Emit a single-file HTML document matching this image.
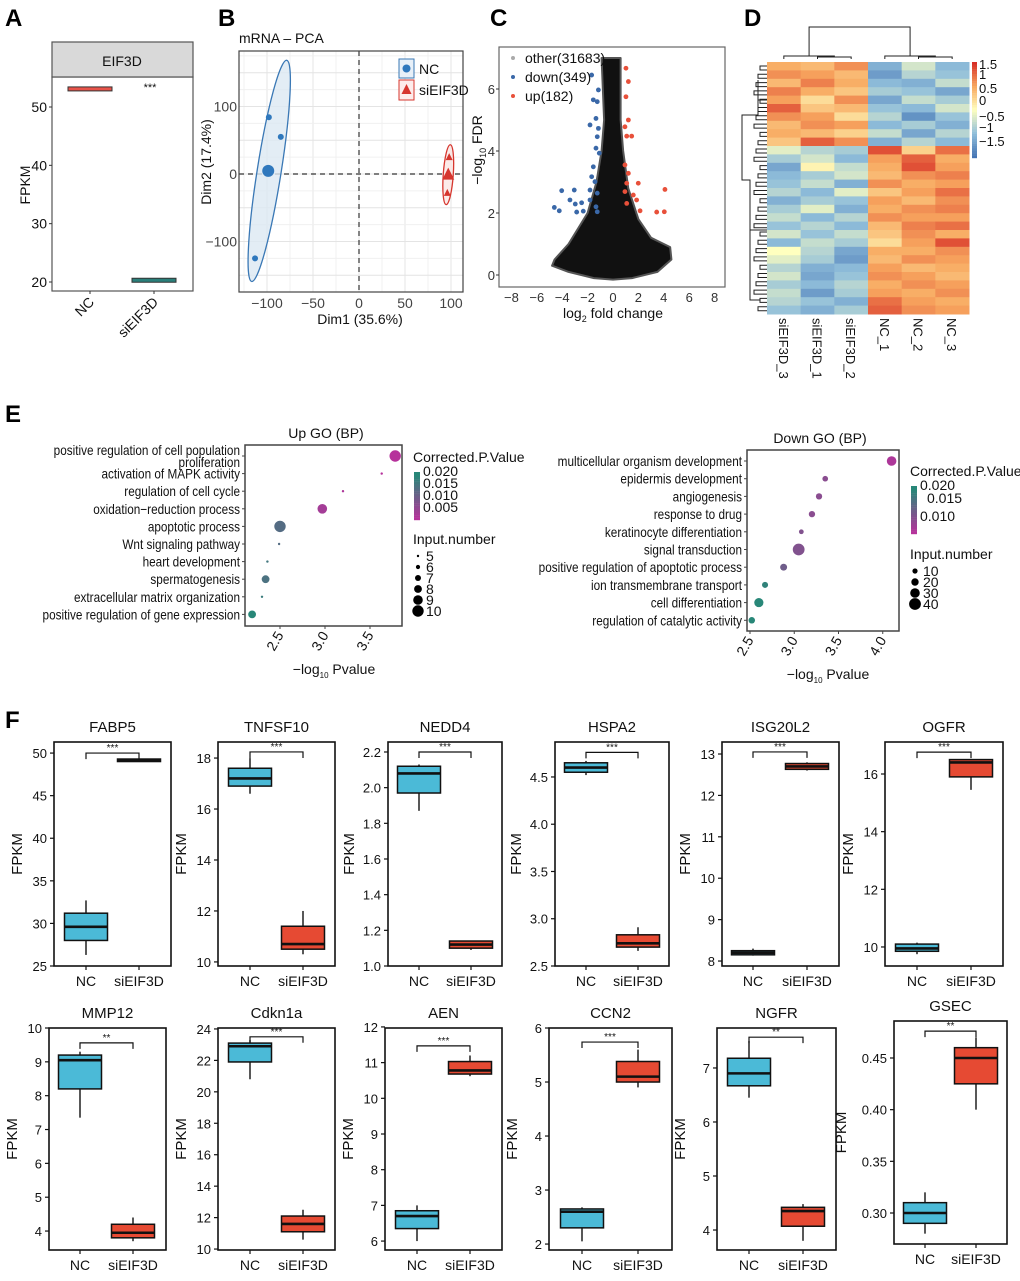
<!DOCTYPE html>
<html><head><meta charset="utf-8"><style>
html,body{margin:0;padding:0;background:#fff}
svg{display:block;font-family:"Liberation Sans",Arial,sans-serif}
</style></head><body>
<svg id="fig" width="1020" height="1281" viewBox="0 0 1020 1281" xmlns="http://www.w3.org/2000/svg">
<rect width="1020" height="1281" fill="#fff"/>
<text x="5" y="26" font-size="24" font-weight="bold">A</text>
<text x="218" y="26" font-size="24" font-weight="bold">B</text>
<text x="490" y="26" font-size="24" font-weight="bold">C</text>
<text x="744" y="26" font-size="24" font-weight="bold">D</text>
<text x="5" y="422" font-size="24" font-weight="bold">E</text>
<text x="5" y="728" font-size="24" font-weight="bold">F</text>
</svg>
<script>
// ---------- DATA ----------
// Panel A
const aGroups = ["NC","siEIF3D"];
const aValues = [53.1, 20.3];
// Panel B (PCA)
const pcaNCx = [-98, -85, -113];
const pcaNCy = [84, 55, -125];
const pcaSIx = [98, 97, 96];
const pcaSIy = [25, 0, -28];
const pcaXTicks = [-100,-50,0,50,100];
const pcaYTicks = [-100,0,100];
// Panel C (volcano)
const downFC = [-1.68,-1.15,-1.55,-1.24,-1.34,-1.81,-1.15,-1.24,-1.34,-1.08,-1.55,-1.68,-1.42,-1.81,-1.24,-4.04,-3.05,-3.39,-2.97,-2.47,-1.81,-4.62,-4.23,-2.86,-2.34,-1.34,-1.24];
const downFDR = [6.45,5.97,5.65,5.59,5.05,4.84,4.73,4.46,4.09,3.93,3.49,3.17,3.01,2.74,2.64,2.72,2.74,2.42,2.29,2.33,2.42,2.18,2.07,2.03,2.06,2.2,2.04];
const upFC = [1.02,1.21,1.02,1.21,0.94,1.47,1.08,0.94,1.08,1.99,0.94,1.6,1.86,1.08,2.13,3.44,4.04,4.09,1.21];
const upFDR = [6.67,6.24,5.75,5.0,4.78,4.48,4.48,3.55,2.96,2.96,2.69,2.58,2.42,2.31,2.07,2.03,2.04,2.76,3.28];
const cloudFC = [-0.9,-0.7,-0.9,-1.3,-2.0,-3.5,-4.6,-4.8,-3.5,-1.5,0,1.5,3.5,4.6,4.5,3.0,2.0,1.2,0.8,0.6,0.6];
const cloudFDR = [7.0,5.0,4.0,3.0,2.0,1.0,0.5,0.3,0.1,-0.1,-0.15,-0.1,0.1,0.5,0.9,1.2,1.8,2.8,4.0,5.0,7.0];
const volXTicks = [-8,-6,-4,-2,0,2,4,6,8];
const volYTicks = [0,2,4,6];
// Panel D (heatmap)
const hmCols = ["siEIF3D_3","siEIF3D_1","siEIF3D_2","NC_1","NC_2","NC_3"];
const hmRows = [
 [0.7,0.6,0.9,-0.9,-0.3,-0.8],[0.9,0.8,0.6,-1.1,-0.5,-0.7],[0.6,1.0,0.7,-0.8,-0.9,-0.4],
 [1.0,0.7,0.5,-0.6,-0.7,-1.0],[0.8,0.3,0.9,-1.0,-0.4,-0.6],[1.2,0.5,0.6,-0.7,-0.8,-0.3],
 [0.9,0.8,0.3,-0.5,-1.2,-0.7],[0.6,0.9,0.8,-0.8,-0.6,-0.9],[0.7,0.6,0.4,-0.4,-1.0,-0.5],
 [0.5,1.2,0.9,-0.9,-0.5,-0.8],
 [-0.2,-0.5,-0.6,1.3,0.4,1.1],[-0.6,-0.3,-0.8,0.8,1.2,0.7],[-1.0,0.1,-0.4,0.7,1.3,0.8],
 [-0.8,-0.6,-0.3,0.6,0.9,1.0],[-0.7,-0.4,-0.9,0.9,0.7,0.8],[-0.5,-0.8,-0.2,0.5,0.8,1.1],
 [-0.9,-0.6,-0.7,0.8,0.6,0.9],[-0.6,-0.2,-0.9,0.7,0.9,1.0],[-0.4,-0.8,-0.5,0.9,0.8,0.8],
 [-0.7,-0.5,-0.8,0.6,1.0,1.1],[-0.3,-0.7,-0.4,0.5,0.9,0.7],[-0.8,-0.4,-0.6,0.3,0.8,1.3],
 [0.0,-0.5,-1.0,0.7,0.7,0.9],[-0.2,-0.6,-1.1,0.6,0.9,0.8],[-0.5,-0.9,-0.8,0.8,0.6,0.7],
 [-0.3,-1.0,-0.7,0.9,0.8,0.6],[-0.6,-0.8,-0.5,0.7,0.9,0.8],[-0.4,-1.1,-0.6,0.8,0.7,0.9],
 [-0.5,-0.7,-0.9,1.1,0.8,0.7],[-0.7,-0.9,-0.6,1.2,0.9,0.8]
];
const hmRowSplit = 10;
// Panel E (GO)
const upTerms = ["positive regulation of cell population\nproliferation","activation of MAPK activity","regulation of cell cycle","oxidation\u2212reduction process","apoptotic process","Wnt signaling pathway","heart development","spermatogenesis","extracellular matrix organization","positive regulation of gene expression"];
const upP = [3.78,3.63,3.2,2.97,2.5,2.49,2.36,2.34,2.3,2.19];
const upN = [10,5,5,9,10,5,5,8,5,8];
const upQ = [0.004,0.005,0.006,0.007,0.016,0.016,0.018,0.017,0.019,0.021];
const upXTicks = [2.5,3.0,3.5];
const downTerms = ["multicellular organism development","epidermis development","angiogenesis","response to drug","keratinocyte differentiation","signal transduction","positive regulation of apoptotic process","ion transmembrane transport","cell differentiation","regulation of catalytic activity"];
const downP = [4.1,3.35,3.28,3.2,3.08,3.05,2.88,2.67,2.6,2.52];
const downN = [30,12,15,15,8,40,18,14,28,16];
const downQ = [0.006,0.010,0.010,0.010,0.011,0.011,0.013,0.020,0.021,0.022];
const downXTicks = [2.5,3.0,3.5,4.0];
// Panel F (boxplots) : [min,q1,median,q3,max]
const fGenes = ["FABP5","TNFSF10","NEDD4","HSPA2","ISG20L2","OGFR","MMP12","Cdkn1a","AEN","CCN2","NGFR","GSEC"];
const fNC = [[26.3,28,29.6,31.2,32.7],[16.6,16.9,17.2,17.6,18],[1.87,1.97,2.08,2.12,2.13],[4.52,4.55,4.6,4.65,4.67],[8.13,8.15,8.2,8.25,8.3],[9.75,9.85,9.95,10.1,10.15],[7.35,8.2,9.05,9.2,9.3],[20.8,21.9,22.9,23.1,23.3],[6.0,6.35,6.7,6.85,7.0],[2.05,2.3,2.6,2.65,2.68],[6.45,6.67,6.9,7.18,7.5],[0.28,0.29,0.30,0.31,0.32]];
const fSI = [[49.1,49.1,49.2,49.3,49.3],[10.3,10.5,10.7,11.4,12],[1.09,1.10,1.12,1.14,1.14],[2.66,2.7,2.74,2.83,2.91],[12.6,12.63,12.7,12.77,12.8],[15.45,15.9,16.4,16.5,16.5],[3.7,3.8,3.95,4.2,4.4],[10.6,11.1,11.6,12.1,12.5],[10.62,10.68,10.78,11.03,11.2],[4.9,5.0,5.1,5.38,5.6],[3.8,4.07,4.35,4.42,4.48],[0.40,0.425,0.45,0.46,0.47]];
const fTicks = [["25","30","35","40","45","50"],["10","12","14","16","18"],["1.0","1.2","1.4","1.6","1.8","2.0","2.2"],["2.5","3.0","3.5","4.0","4.5"],["8","9","10","11","12","13"],["10","12","14","16"],["4","5","6","7","8","9","10"],["10","12","14","16","18","20","22","24"],["6","7","8","9","10","11","12"],["2","3","4","5","6"],["4","5","6","7"],["0.30","0.35","0.40","0.45"]];
const fDomain = [[25,51.3],[9.84,18.63],[1.0,2.256],[2.5,4.87],[7.88,13.29],[9.34,17.11],[3.44,10],[9.94,24.06],[5.75,11.97],[1.89,6],[3.63,7.74],[0.27,0.4858]];
const fBracket = [50,18.24,2.2,4.76,13.05,16.76,9.56,23.5,11.47,5.74,7.57,0.476];
const fSig = ["***","***","***","***","***","***","**","***","***","***","**","**"];
// layout (pixels) for F panels: [left,top,right,bottom,ncX,siX,yTitleOffset]
const fLayout = [[54,742,171,966,86,139,32],[218,742,335,966,250,303,32],[388,742,502,966,419,471,34],[555,742,669,966,586,638,34],[722,742,839,966,753,807,32],[885,742,1003,966,917,971,32],
 [49,1028,166,1250,80,133,32],[218,1028,335,1250,250,303,32],[385,1028,502,1250,417,470,32],[549,1028,672,1250,582,638,32],[717,1028,836,1250,749,803,32],[894,1021,1007,1244,925,976,48]];

// ---------- HELPERS ----------
const svg = document.getElementById('fig');
const NS = 'http://www.w3.org/2000/svg';
function mk(tag, attrs, parent){ const e=document.createElementNS(NS,tag); for(const k in attrs) e.setAttribute(k,attrs[k]); (parent||svg).appendChild(e); return e; }
function nm(e, n){
  
  
  return e;
}
function txt(x,y,s,size,anchor,extra){ const t=mk('text',Object.assign({x:x,y:y,'font-size':size,'text-anchor':anchor||'start',fill:'#111'},extra||{})); t.textContent=s; return t; }

// ---------- PANEL A ----------
(function(){
  const L=52,T=42,R=193,B=291,S=77;
  const y=v=>282-(v-20)*(175/30);
  const xs=[90,154];
  let e=mk('rect',{x:L,y:S,width:R-L,height:B-S,fill:'#fff',stroke:'#555','stroke-width':1.2}); nm(e,'a-plot-area');
  e=mk('rect',{x:L,y:T,width:R-L,height:S-T,fill:'#d9d9d9',stroke:'#555','stroke-width':1.2}); nm(e,'a-strip');
  e=txt(122,66,'EIF3D',14,'middle'); nm(e,'a-strip-label');
  [20,30,40,50].forEach(v=>{ let t=txt(47,y(v)+5,String(v),14,'end'); nm(t,'a-y-tick-label'); let l=mk('line',{x1:L-3,x2:L,y1:y(v),y2:y(v),stroke:'#333'}); nm(l,'a-y-tick'); });
  e=txt(0,0,'FPKM',14,'middle',{transform:'translate(30,185) rotate(-90)'}); nm(e,'a-y-axis-title');
  const cols=['#e8534a','#2a7f7a'];
  aValues.forEach((v,i)=>{
    let r=mk('rect',{x:xs[i]-22,y:y(v)-2,width:44,height:4,fill:cols[i],stroke:'#333','stroke-width':1}); nm(r,'a-box-'+aGroups[i]);
    let t=txt(0,0,aGroups[i],14,'end',{transform:`translate(${xs[i]+5},${B+12}) rotate(-45)`}); nm(t,'a-x-tick-label');
    let l=mk('line',{x1:xs[i],x2:xs[i],y1:B,y2:B+3,stroke:'#333'}); nm(l,'a-x-tick');
  });
  e=txt(150,91,'***',11,'middle'); nm(e,'a-significance');
})();

// ---------- PANEL B ----------
(function(){
  const L=239,T=51,R=463,B=292;
  const x=v=>359+v*0.92, y=v=>174-v*0.675;
  let e;
  for(let v=-125;v<=100;v+=25){ if(x(v)>L&&x(v)<R){ e=mk('line',{x1:x(v),x2:x(v),y1:T,y2:B,stroke:v%50===0?'#e4e4e4':'#f0f0f0','stroke-width':1}); nm(e,'b-grid-x'); } }
  for(let v=-150;v<=175;v+=25){ if(y(v)>T&&y(v)<B){ e=mk('line',{x1:L,x2:R,y1:y(v),y2:y(v),stroke:v%50===0?'#e4e4e4':'#f0f0f0','stroke-width':1}); nm(e,'b-grid-y'); } }
  e=mk('line',{x1:x(0),x2:x(0),y1:T,y2:B,stroke:'#333','stroke-dasharray':'5,4','stroke-width':1.2}); nm(e,'b-zero-vline');
  e=mk('line',{x1:L,x2:R,y1:y(0),y2:y(0),stroke:'#333','stroke-dasharray':'5,4','stroke-width':1.2}); nm(e,'b-zero-hline');
  const mNCx=pcaNCx.reduce((a,b)=>a+b)/3, mNCy=pcaNCy.reduce((a,b)=>a+b)/3;
  const mSIx=pcaSIx.reduce((a,b)=>a+b)/3, mSIy=pcaSIy.reduce((a,b)=>a+b)/3;
  e=mk('ellipse',{cx:x(mNCx)+1,cy:y(mNCy)+0,rx:12,ry:112,transform:`rotate(9 ${x(mNCx)+1} ${y(mNCy)})`,fill:'#dce8f3','fill-opacity':0.8,stroke:'#3a78b5','stroke-width':1.3}); nm(e,'b-nc-ellipse');
  e=mk('ellipse',{cx:x(mSIx),cy:y(mSIy),rx:5,ry:30,transform:`rotate(4 ${x(mSIx)} ${y(mSIy)})`,fill:'#fbe3e0','fill-opacity':0.7,stroke:'#d6362e','stroke-width':1.3}); nm(e,'b-si-ellipse');
  pcaNCx.forEach((v,i)=>{ let c=mk('circle',{cx:x(v),cy:y(pcaNCy[i]),r:3,fill:'#2f78bd'}); nm(c,'b-nc-point'); });
  e=mk('circle',{cx:x(mNCx),cy:y(mNCy),r:6,fill:'#2f78bd'}); nm(e,'b-nc-centroid');
  pcaSIx.forEach((v,i)=>{ const cx=x(v),cy=y(pcaSIy[i]); let p=mk('path',{d:`M${cx},${cy-4}L${cx+3.5},${cy+3}L${cx-3.5},${cy+3}Z`,fill:'#d6362e'}); nm(p,'b-si-point'); });
  { const cx=x(mSIx),cy=y(mSIy); e=mk('path',{d:`M${cx},${cy-7}L${cx+6},${cy+5}L${cx-6},${cy+5}Z`,fill:'#d6362e'}); nm(e,'b-si-centroid'); }
  e=mk('rect',{x:L,y:T,width:R-L,height:B-T,fill:'none',stroke:'#444','stroke-width':1.2}); nm(e,'b-plot-border');
  pcaXTicks.forEach(v=>{ let t=txt(x(v),308,String(v).replace('-','\u2212'),14,'middle',{fill:'#444'}); nm(t,'b-x-tick-label'); });
  pcaYTicks.forEach(v=>{ let t=txt(L-2,y(v)+5,String(v).replace('-','\u2212'),14,'end',{fill:'#444'}); nm(t,'b-y-tick-label'); });
  e=txt(360,324,'Dim1 (35.6%)',14,'middle'); nm(e,'b-x-axis-title');
  e=txt(0,0,'Dim2 (17.4%)',14,'middle',{transform:'translate(211,162) rotate(-90)'}); nm(e,'b-y-axis-title');
  e=txt(239,43,'mRNA \u2013 PCA',14,'start'); nm(e,'b-title');
  e=mk('rect',{x:399,y:59,width:15,height:19,fill:'#e8f0f8',stroke:'#3a78b5'}); nm(e,'b-legend-key-nc');
  e=mk('circle',{cx:406.5,cy:68.5,r:4,fill:'#2f78bd'}); nm(e,'b-legend-marker-nc');
  e=txt(419,74,'NC',14,'start'); nm(e,'b-legend-label-nc');
  e=mk('rect',{x:399,y:80,width:15,height:20,fill:'#fdeceb',stroke:'#d6362e'}); nm(e,'b-legend-key-si');
  e=mk('path',{d:'M406.5,84L411.5,94L401.5,94Z',fill:'#d6362e'}); nm(e,'b-legend-marker-si');
  e=txt(419,95,'siEIF3D',14,'start'); nm(e,'b-legend-label-si');
})();

// ---------- PANEL C ----------
(function(){
  const L=499,T=47,R=725,B=287;
  const x=v=>613+v*12.7, y=v=>275-v*31;
  let e;
  const pts=cloudFC.map((v,i)=>x(v)+','+y(cloudFDR[i])).join(' ');
  e=mk('polygon',{points:pts,fill:'#111',stroke:'#555','stroke-width':2,'stroke-linejoin':'round'}); nm(e,'c-nonsig-cloud');
  downFC.forEach((v,i)=>{ let c=mk('circle',{cx:x(v),cy:y(downFDR[i]),r:2.4,fill:'#3a68a8'}); nm(c,'c-down-point'); });
  upFC.forEach((v,i)=>{ let c=mk('circle',{cx:x(v),cy:y(upFDR[i]),r:2.4,fill:'#e8503a'}); nm(c,'c-up-point'); });
  e=mk('rect',{x:L,y:T,width:R-L,height:B-T,fill:'none',stroke:'#666','stroke-width':1.2}); nm(e,'c-plot-border');
  volXTicks.forEach(v=>{ let t=txt(x(v),302,String(v).replace('-','\u2212'),13,'middle',{fill:'#333'}); nm(t,'c-x-tick-label'); });
  volYTicks.forEach(v=>{ let t=txt(L-4,y(v)+5,String(v),13,'end',{fill:'#333'}); nm(t,'c-y-tick-label'); let l=mk('line',{x1:L-3,x2:L,y1:y(v),y2:y(v),stroke:'#333'}); nm(l,'c-y-tick'); });
  e=txt(613,318,'',14,'middle',{}); nm(e,'c-x-axis-title');
  { const s1=mk('tspan',{},e); s1.textContent='log'; const s2=mk('tspan',{dy:4,'font-size':9},e); s2.textContent='2'; const s3=mk('tspan',{dy:-4},e); s3.textContent=' fold change'; }
  e=txt(0,0,'',14,'middle',{transform:'translate(482,150) rotate(-90)'}); nm(e,'c-y-axis-title');
  { const a=mk('tspan',{},e); a.textContent='\u2212log'; const b=mk('tspan',{dy:4,'font-size':9},e); b.textContent='10'; const c=mk('tspan',{dy:-4},e); c.textContent=' FDR'; }
  const leg=[['other(31683)','#aaa'],['down(349)','#3a68a8'],['up(182)','#e8503a']];
  leg.forEach((l,i)=>{ let c=mk('circle',{cx:513,cy:58+i*19,r:2,fill:l[1]}); nm(c,'c-legend-marker'); let t=txt(525,63+i*19,l[0],14,'start'); nm(t,'c-legend-label'); });
})();

// ---------- PANEL D ----------
(function(){
  const L=767,T=62,R=969,B=314;
  const cw=(R-L)/hmCols.length;
  const stops=[[-1.5,[69,117,180]],[-0.75,[145,191,219]],[0,[255,255,191]],[0.75,[248,168,96]],[1.5,[215,48,39]]];
  function col(v){ v=Math.max(-1.5,Math.min(1.5,v)); for(let i=0;i<stops.length-1;i++){ const a=stops[i],b=stops[i+1]; if(v<=b[0]){ const t=(v-a[0])/(b[0]-a[0]); const c=a[1].map((q,k)=>Math.round(q+(b[1][k]-q)*t)); return `rgb(${c})`; } } return 'rgb(215,48,39)'; }
  const upperH=(146-T)/hmRowSplit, lowerH=(B-146)/(hmRows.length-hmRowSplit);
  let yy=T;
  hmRows.forEach((row,ri)=>{
    const h=ri<hmRowSplit?upperH:lowerH;
    row.forEach((v,ci)=>{ let r=mk('rect',{x:L+ci*cw,y:yy,width:cw+0.5,height:h+0.5,fill:col(v)}); nm(r,'d-heatmap-cell'); });
    yy+=h;
  });
  let e;
  const cx=i=>L+cw*(i+0.5);
  const dl=(d,n)=>{ let p=mk('path',{d:d,fill:'none',stroke:'#222','stroke-width':1}); nm(p,n); };
  dl(`M${cx(1)},59V57H${cx(2)}V59`,'d-col-dendrogram');
  dl(`M${cx(0)},59V56H${(cx(1)+cx(2))/2}V57`,'d-col-dendrogram');
  dl(`M${cx(4)},59V57H${cx(5)}V59`,'d-col-dendrogram');
  dl(`M${cx(3)},59V56H${(cx(4)+cx(5))/2}V57`,'d-col-dendrogram');
  dl(`M${(cx(0)+cx(1.5))/2},56V27H${(cx(3)+cx(4.5))/2}V56`,'d-col-dendrogram');
  dl(`M767,100H758V115H742V180H750V230H767`,'d-row-dendrogram');
  for(let i=0;i<30;i++){ const yv=T+4+i*8.3; dl(`M767,${yv}H${760-(i%4)*2}V${yv+4}H767`,'d-row-dendrogram'); }
  dl(`M750,180V300H760`,'d-row-dendrogram');
  dl(`M758,80V115`,'d-row-dendrogram');
  for(let i=0;i<40;i++){ const v=1.5-3*i/39; let r=mk('rect',{x:972,y:62+i*2.4,width:5,height:2.6,fill:col(v)}); nm(r,'d-colorbar-segment'); }
  const cbl=[['1.5',69],['1',79],['0.5',93],['0',105],['\u22120.5',121],['\u22121',132],['\u22121.5',146]];
  cbl.forEach(c=>{ let t=txt(979,c[1],c[0],13,'start'); nm(t,'d-colorbar-label'); });
  hmCols.forEach((c,i)=>{ let t=txt(0,0,c,13,'start',{transform:`translate(${cx(i)-5},318) rotate(90)`}); nm(t,'d-column-label'); });
})();

// ---------- PANEL E ----------
function goPlot(pref,terms,pv,nn,qq,ticks,box,xf,title,titleX,legX,legY,sizeFn,sizeLab,qLabs){
  const [L,T,R,B,y0,dy]=box;
  let e=mk('rect',{x:L,y:T,width:R-L,height:B-T,fill:'#fff',stroke:'#444','stroke-width':1.5}); nm(e,pref+'-plot-border');
  function qcol(q){ const t=Math.max(0,Math.min(1,(q-0.005)/0.016)); const a=[182,50,155],b=[40,135,120]; return `rgb(${a.map((v,k)=>Math.round(v+(b[k]-v)*t))})`; }
  terms.forEach((tm,i)=>{
    const y=y0+i*dy;
    const lines=tm.split('\n');
    lines.forEach((ln,j)=>{ let t=txt(L-5,y+5+(j-(lines.length-1))*12+ (lines.length>1?6:0),ln,14,'end'); nm(t,pref+'-term-label'); const w=t.getComputedTextLength(); if(w>0){ t.setAttribute('textLength',w*0.84); t.setAttribute('lengthAdjust','spacingAndGlyphs'); } });
    let l=mk('line',{x1:L-3,x2:L,y1:y,y2:y,stroke:'#444'}); nm(l,pref+'-y-tick');
    let c=mk('circle',{cx:xf(pv[i]),cy:y,r:sizeFn(nn[i]),fill:qcol(qq[i])}); nm(c,pref+'-point');
  });
  ticks.forEach(v=>{ let t=txt(0,0,v.toFixed(1),14,'end',{transform:`translate(${xf(v)+4},${B+9}) rotate(-60)`}); nm(t,pref+'-x-tick-label'); let l=mk('line',{x1:xf(v),x2:xf(v),y1:B,y2:B+3,stroke:'#444'}); nm(l,pref+'-x-tick'); });
  e=txt(titleX,T-7,title,14,'middle'); nm(e,pref+'-title');
  e=txt(titleX+8,B+48,'',14,'middle'); nm(e,pref+'-x-axis-title');
  { const a=mk('tspan',{},e); a.textContent='\u2212log'; const b=mk('tspan',{dy:4,'font-size':8},e); b.textContent='10'; const c=mk('tspan',{dy:-4},e); c.textContent=' Pvalue'; }
  e=txt(legX,legY,'Corrected.P.Value',14,'start'); nm(e,pref+'-legend-color-title');
  for(let i=0;i<20;i++){ const q=0.022-0.017*i/19; let r=mk('rect',{x:legX+1,y:legY+10+i*2.4,width:6,height:2.6,fill:qcol(q)}); nm(r,pref+'-legend-colorbar'); }
  qLabs.forEach(q=>{ let t=txt(legX+q[1],q[2],q[0],14,'start'); nm(t,pref+'-legend-color-label'); });
  e=txt(legX,sizeLab.y,'Input.number',14,'start'); nm(e,pref+'-legend-size-title');
  sizeLab.vals.forEach((v,i)=>{ const yy=sizeLab.y+12+i*sizeLab.dy; let c=mk('circle',{cx:legX+5,cy:yy,r:sizeFn(v),fill:'#000'}); nm(c,pref+'-legend-size-key'); let t=txt(legX+13,yy+5,String(v),14,'start'); nm(t,pref+'-legend-size-label'); });
}
goPlot('up-go',upTerms,upP,upN,upQ,upXTicks,[245,445,402,626,456,17.6],v=>280+(v-2.5)*90,'Up GO (BP)',326,413,462,
  n=>1.2+(n-5)*0.9,{y:544,vals:[5,6,7,8,9,10],dy:11},[['0.020',10,476],['0.015',10,488],['0.010',10,500],['0.005',10,512]]);
goPlot('down-go',downTerms,downP,downN,downQ,downXTicks,[747,450,899,631,461,17.7],v=>750+(v-2.5)*88.5,'Down GO (BP)',820,910,476,
  n=>1.5+n*0.11,{y:559,vals:[10,20,30,40],dy:11},[['0.020',10,490],['0.015',17,503],['0.010',10,521]]);

// ---------- PANEL F ----------
fGenes.forEach((g,i)=>{
  const [L,T,R,B,xn,xs,yo]=fLayout[i];
  const [d0,d1]=fDomain[i];
  const y=v=>B-(v-d0)/(d1-d0)*(B-T);
  let e=mk('rect',{x:L,y:T,width:R-L,height:B-T,fill:'#fff',stroke:'#111','stroke-width':1.6}); nm(e,'f-plot-border-'+g);
  e=txt((L+R)/2,T-10,g,15,'middle'); nm(e,'f-title-'+g);
  fTicks[i].forEach(s=>{ const v=parseFloat(s); let t=txt(L-7,y(v)+5,s,13,'end'); nm(t,'f-y-tick-label'); let l=mk('line',{x1:L-4,x2:L,y1:y(v),y2:y(v),stroke:'#111','stroke-width':1.2}); nm(l,'f-y-tick'); });
  e=txt(0,0,'FPKM',15,'middle',{transform:`translate(${L-yo},${(T+B)/2}) rotate(-90)`}); nm(e,'f-y-axis-title');
  [[xn,'NC',fNC[i],'#4bbad7'],[xs,'siEIF3D',fSI[i],'#e64a33']].forEach(([cx,lab,st,c])=>{
    let l=mk('line',{x1:cx,x2:cx,y1:B,y2:B+4,stroke:'#111','stroke-width':1.2}); nm(l,'f-x-tick');
    let t=txt(cx,B+20,lab,14,'middle'); nm(t,'f-x-tick-label');
    let w=mk('line',{x1:cx,x2:cx,y1:y(st[0]),y2:y(st[4]),stroke:'#111','stroke-width':1.4}); nm(w,'f-whisker-'+lab);
    const h=Math.max(y(st[1])-y(st[3]),2.5);
    let r=mk('rect',{x:cx-21.5,y:y(st[3]),width:43,height:h,fill:c,stroke:'#111','stroke-width':1.5}); nm(r,'f-box-'+lab);
    let m=mk('line',{x1:cx-21.5,x2:cx+21.5,y1:y(st[2]),y2:y(st[2]),stroke:'#111','stroke-width':2.6}); nm(m,'f-median-'+lab);
  });
  const by=y(fBracket[i]);
  e=mk('path',{d:`M${xn},${by+6}V${by}H${xs}V${by+6}`,fill:'none',stroke:'#111','stroke-width':1.2}); nm(e,'f-significance-bracket');
  e=txt((xn+xs)/2,by-2,fSig[i],10,'middle'); nm(e,'f-significance-stars');
});
</script>
</body></html>
